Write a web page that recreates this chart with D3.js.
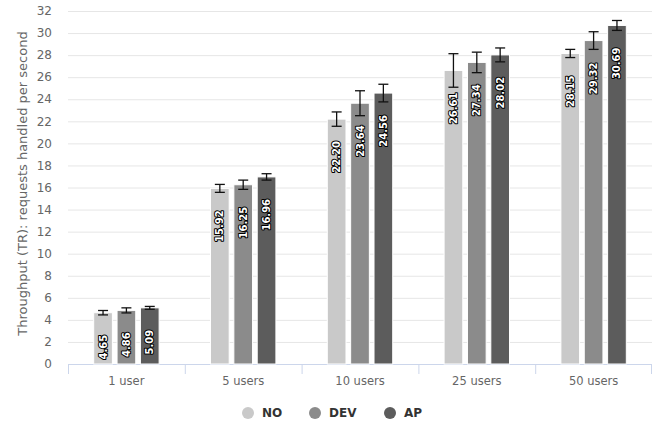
<!DOCTYPE html>
<html>
<head>
<meta charset="utf-8">
<script src="https://cdn.jsdelivr.net/npm/d3@7"></script>
<style>
  body { margin: 0; background: #fff; }
  svg { display: block; font-family: "DejaVu Sans", sans-serif; }
</style>
</head>
<body>
<svg id="chart" width="664" height="443"></svg>
<script>
const categories = ['1 user', '5 users', '10 users', '25 users', '50 users'];
const seriesNames = ['NO', 'DEV', 'AP'];
const seriesColors = ['#c9c9c9', '#8b8b8b', '#5c5c5c'];
const noValues = [4.65, 15.92, 22.20, 26.61, 28.15];
const devValues = [4.86, 16.25, 23.64, 27.34, 29.32];
const apValues = [5.09, 16.96, 24.56, 28.02, 30.69];
const noErrors = [0.2, 0.36, 0.65, 1.52, 0.37];
const devErrors = [0.23, 0.42, 1.13, 0.93, 0.8];
const apErrors = [0.13, 0.29, 0.8, 0.63, 0.45];
const yTicks = d3.range(0, 33, 2);
const yTitle = 'Throughput (TR): requests handled per second';

const values = [noValues, devValues, apValues];
const errors = [noErrors, devErrors, apErrors];

const margin = { top: 11, right: 12, bottom: 79, left: 68 };
const width = 664 - margin.left - margin.right;
const height = 443 - margin.top - margin.bottom;

const svg = d3.select('#chart');
const g = svg.append('g')
  .attr('transform', `translate(${margin.left},${margin.top})`);

const x0 = d3.scaleBand().domain(categories).range([0, width]);
const bw = x0.bandwidth();
const x1 = d3.scaleBand().domain(seriesNames).range([bw * 0.2, bw * 0.8]);
const y = d3.scaleLinear().domain([0, 32]).range([height, 0]);

// gridlines
g.append('g')
  .selectAll('line')
  .data(yTicks)
  .join('line')
  .attr('x1', 0)
  .attr('x2', width)
  .attr('y1', d => y(d) + 0.5)
  .attr('y2', d => y(d) + 0.5)
  .attr('stroke', '#e6e6e6');

// y tick labels
g.append('g')
  .selectAll('text')
  .data(yTicks)
  .join('text')
  .attr('x', -16)
  .attr('y', d => y(d))
  .attr('dy', '0.35em')
  .attr('text-anchor', 'end')
  .attr('fill', '#666')
  .attr('font-size', 12)
  .text(d => d);

// y title
g.append('text')
  .attr('transform', `translate(${22 - margin.left},${height / 2 - 4}) rotate(-90)`)
  .attr('text-anchor', 'middle')
  .attr('dy', '0.35em')
  .attr('fill', '#666')
  .attr('font-size', 13)
  .text(yTitle);

// x axis
const xAxis = g.append('g').attr('transform', `translate(0,${height})`);
xAxis.append('line')
  .attr('x1', 0).attr('x2', width)
  .attr('y1', 0.5).attr('y2', 0.5)
  .attr('stroke', '#ccd6eb');
xAxis.selectAll('.tick')
  .data(categories.concat(['end']))
  .join('line')
  .attr('x1', (d, i) => i < categories.length ? x0(d) + 0.5 : width - 0.5)
  .attr('x2', (d, i) => i < categories.length ? x0(d) + 0.5 : width - 0.5)
  .attr('y1', 0).attr('y2', 10)
  .attr('stroke', '#ccd6eb');
xAxis.selectAll('text')
  .data(categories)
  .join('text')
  .attr('x', d => x0(d) + bw / 2)
  .attr('y', 21)
  .attr('text-anchor', 'middle')
  .attr('fill', '#666')
  .attr('font-size', 11.5)
  .text(d => d);

// bars
const pad = x1.bandwidth() * 0.1;
const barW = x1.bandwidth() - 2 * pad;

seriesNames.forEach((name, s) => {
  const sg = g.append('g');
  const data = categories.map((c, i) => ({ c, v: values[s][i], e: errors[s][i] }));

  sg.selectAll('rect')
    .data(data)
    .join('rect')
    .attr('x', d => x0(d.c) + x1(name) + pad)
    .attr('y', d => y(d.v))
    .attr('width', barW)
    .attr('height', d => height - y(d.v))
    .attr('fill', seriesColors[s])
    .attr('stroke', '#fff')
    .attr('stroke-width', 1);

  // error bars
  const eg = sg.selectAll('g.err')
    .data(data)
    .join('g')
    .attr('transform', d => `translate(${x0(d.c) + x1(name) + pad + barW / 2},0)`)
    .attr('stroke', '#111')
    .attr('stroke-width', 1.3);
  eg.append('line')
    .attr('y1', d => y(d.v + d.e)).attr('y2', d => y(d.v - d.e));
  eg.append('line')
    .attr('x1', -5).attr('x2', 5)
    .attr('y1', d => y(d.v + d.e)).attr('y2', d => y(d.v + d.e));
  eg.append('line')
    .attr('x1', -5).attr('x2', 5)
    .attr('y1', d => y(d.v - d.e)).attr('y2', d => y(d.v - d.e));

  // data labels
  sg.selectAll('text')
    .data(data)
    .join('text')
    .attr('transform', d => `translate(${x0(d.c) + x1(name) + pad + barW / 2},${y(d.v) + 22}) rotate(-90)`)
    .attr('text-anchor', 'end')
    .attr('dy', '0.35em')
    .attr('font-size', 10)
    .attr('font-weight', 'bold')
    .attr('fill', '#fff')
    .attr('stroke', '#000')
    .attr('stroke-width', 2)
    .attr('stroke-linejoin', 'round')
    .attr('paint-order', 'stroke')
    .text(d => d.v.toFixed(2));
});

// legend
const legendX = [248, 315, 390];
const lg = svg.append('g');
seriesNames.forEach((name, s) => {
  lg.append('circle')
    .attr('cx', legendX[s])
    .attr('cy', 413)
    .attr('r', 6)
    .attr('fill', seriesColors[s]);
  lg.append('text')
    .attr('x', legendX[s] + 14)
    .attr('y', 413)
    .attr('dy', '0.35em')
    .attr('font-size', 12)
    .attr('font-weight', 'bold')
    .attr('fill', '#333')
    .text(name);
});
</script>
</body>
</html>
